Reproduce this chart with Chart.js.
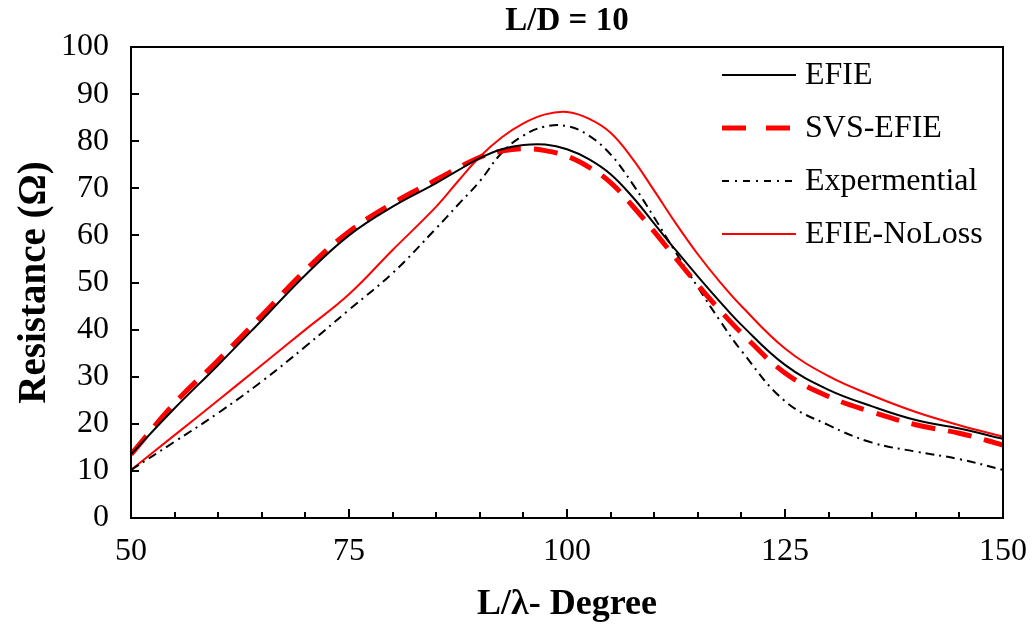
<!DOCTYPE html>
<html>
<head>
<meta charset="utf-8">
<script src="https://cdn.jsdelivr.net/npm/chart.js@4"></script>
<style>
  html, body { margin: 0; padding: 0; background: #fff; }
  #wrap { width: 1033px; height: 628px; position: relative; }
</style>
</head>
<body>
<div id="wrap"><canvas id="c" width="1033" height="628"></canvas></div>
<script>
const chartTitle = 'L/D = 10';
const xAxisTitle = 'L/λ- Degree';
const yAxisTitle = 'Resistance (Ω)';
const seriesNames = ['EFIE', 'SVS-EFIE', 'Expermential', 'EFIE-NoLoss'];
const xValues = [50, 55, 60, 65, 70, 75, 80, 85, 87.5, 90, 92.5, 95, 97.5, 100, 102.5, 105, 107.5, 110, 112.5, 115, 117.5, 120, 125, 130, 135, 140, 145, 150];
const efie = [13.5, 23.3, 32.5, 42, 51.6, 60, 66.1, 71.1, 73.8, 76.4, 78.3, 79.2, 79.3, 78.3, 76.2, 73.0, 68.2, 62.5, 56.8, 51.3, 46.0, 41.0, 32.5, 27.2, 23.7, 20.8, 19.0, 16.8];
const svsEfie = [13.5, 24.4, 33.5, 43, 52.6, 60.8, 66.8, 71.8, 74.3, 76.6, 77.9, 78.4, 78.0, 76.8, 74.5, 71.2, 66.3, 60.8, 55.1, 49.5, 44.2, 39.3, 30.8, 25.8, 22.5, 19.8, 18.0, 15.5];
const experimental = [10.2, 16.2, 22.3, 29, 36.4, 44.2, 52, 61.5, 66.5, 71.5, 77.5, 81.2, 83.1, 83.2, 81.2, 77.2, 71.0, 63.8, 56.3, 49, 42, 35.5, 24.8, 19.7, 16, 14.1, 12.5, 10.2];
const efieNoLoss = [10.2, 17.6, 25, 32.5, 40, 47.5, 56.9, 66.1, 71.5, 76.7, 80.8, 83.8, 85.7, 86.2, 84.8, 81.8, 76.3, 69.5, 62.5, 56, 50.2, 45, 36, 30.1, 26, 22.5, 19.7, 17.3];
const xTickValues = [50, 55, 60, 65, 70, 75, 80, 85, 90, 95, 100, 105, 110, 115, 120, 125, 130, 135, 140, 145, 150];
const xMajorTicks = [50, 75, 100, 125, 150];

const toPoints = arr => arr.map((v, i) => ({ x: xValues[i], y: v }));

const styles = [
  { color: '#000000', width: 2, dash: [] },
  { color: '#ff0000', width: 5, dash: [24, 13] },
  { color: '#000000', width: 2, dash: [9, 5, 2, 5] },
  { color: '#ff0000', width: 2, dash: [] }
];
const allSeries = [efie, svsEfie, experimental, efieNoLoss];

const FONT = "'Liberation Serif', 'Times New Roman', serif";

const decorPlugin = {
  id: 'decor',
  afterDraw(chart) {
    const ctx = chart.ctx;
    const a = chart.chartArea;
    const xs = chart.scales.x, ys = chart.scales.y;
    ctx.save();
    ctx.strokeStyle = '#000';
    ctx.lineWidth = 2;
    ctx.setLineDash([]);
    ctx.strokeRect(a.left, a.top, a.right - a.left, a.bottom - a.top);
    ys.ticks.forEach(t => {
      const y = Math.round(ys.getPixelForValue(t.value));
      ctx.beginPath();
      ctx.moveTo(a.left, y);
      ctx.lineTo(a.left + 8, y);
      ctx.stroke();
    });
    xs.ticks.forEach(t => {
      const x = Math.round(xs.getPixelForValue(t.value));
      const len = xMajorTicks.includes(t.value) ? 9 : 6;
      ctx.beginPath();
      ctx.moveTo(x, a.bottom);
      ctx.lineTo(x, a.bottom - len);
      ctx.stroke();
    });
    ctx.fillStyle = '#000';
    ctx.font = "bold 33px " + FONT;
    ctx.textAlign = 'center';
    ctx.textBaseline = 'middle';
    ctx.fillText(chartTitle, (a.left + a.right) / 2, 21);
    const rows = [75, 128, 181, 234];
    ctx.font = "32px " + FONT;
    ctx.textAlign = 'left';
    seriesNames.forEach((name, i) => {
      const s = styles[i];
      ctx.strokeStyle = s.color;
      ctx.lineWidth = s.width;
      ctx.setLineDash(i === 1 ? [24, 20] : (i === 2 ? [7, 6, 2, 6] : []));
      ctx.beginPath();
      ctx.moveTo(722, rows[i]);
      ctx.lineTo(796, rows[i]);
      ctx.stroke();
      ctx.setLineDash([]);
      ctx.fillStyle = '#000';
      ctx.fillText(name, 805, rows[i] + 1);
    });
    ctx.restore();
  }
};

new Chart(document.getElementById('c'), {
  type: 'line',
  data: {
    datasets: allSeries.map((arr, i) => ({
      label: seriesNames[i],
      data: toPoints(arr),
      borderColor: styles[i].color,
      backgroundColor: styles[i].color,
      borderWidth: styles[i].width,
      borderDash: styles[i].dash,
      borderCapStyle: 'butt',
      pointRadius: 0,
      fill: false,
      tension: 0.4
    }))
  },
  options: {
    responsive: false,
    animation: false,
    layout: { padding: { left: 0, right: 30, top: 47, bottom: 0 } },
    plugins: { legend: { display: false }, title: { display: false }, tooltip: { enabled: false } },
    scales: {
      x: {
        type: 'linear',
        min: 50, max: 150,
        grid: { display: false, drawTicks: false },
        border: { display: false },
        afterBuildTicks(scale) { scale.ticks = xTickValues.map(v => ({ value: v })); },
        ticks: {
          autoSkip: false,
          maxRotation: 0,
          padding: 14,
          color: '#000',
          font: { family: FONT, size: 32 },
          callback: v => (xMajorTicks.includes(v) ? String(v) : '')
        },
        title: {
          display: true,
          text: xAxisTitle,
          color: '#000',
          font: { family: FONT, size: 36, weight: 'bold', lineHeight: 1.2 },
          padding: { top: 0, bottom: 2 }
        },
        afterFit(scale) { scale.height = 110; scale.paddingRight = 0; scale.paddingLeft = 0; }
      },
      y: {
        min: 0, max: 100,
        grid: { display: false, drawTicks: false },
        border: { display: false },
        ticks: {
          stepSize: 10,
          padding: 22,
          color: '#000',
          font: { family: FONT, size: 32 }
        },
        title: {
          display: true,
          text: yAxisTitle,
          color: '#000',
          font: { family: FONT, size: 39, weight: 'bold', lineHeight: 1.2 },
          padding: { top: 12, bottom: 0 }
        },
        afterFit(scale) { scale.width = 131; scale.paddingTop = 0; scale.paddingBottom = 0; }
      }
    }
  },
  plugins: [decorPlugin]
});
</script>
</body>
</html>
